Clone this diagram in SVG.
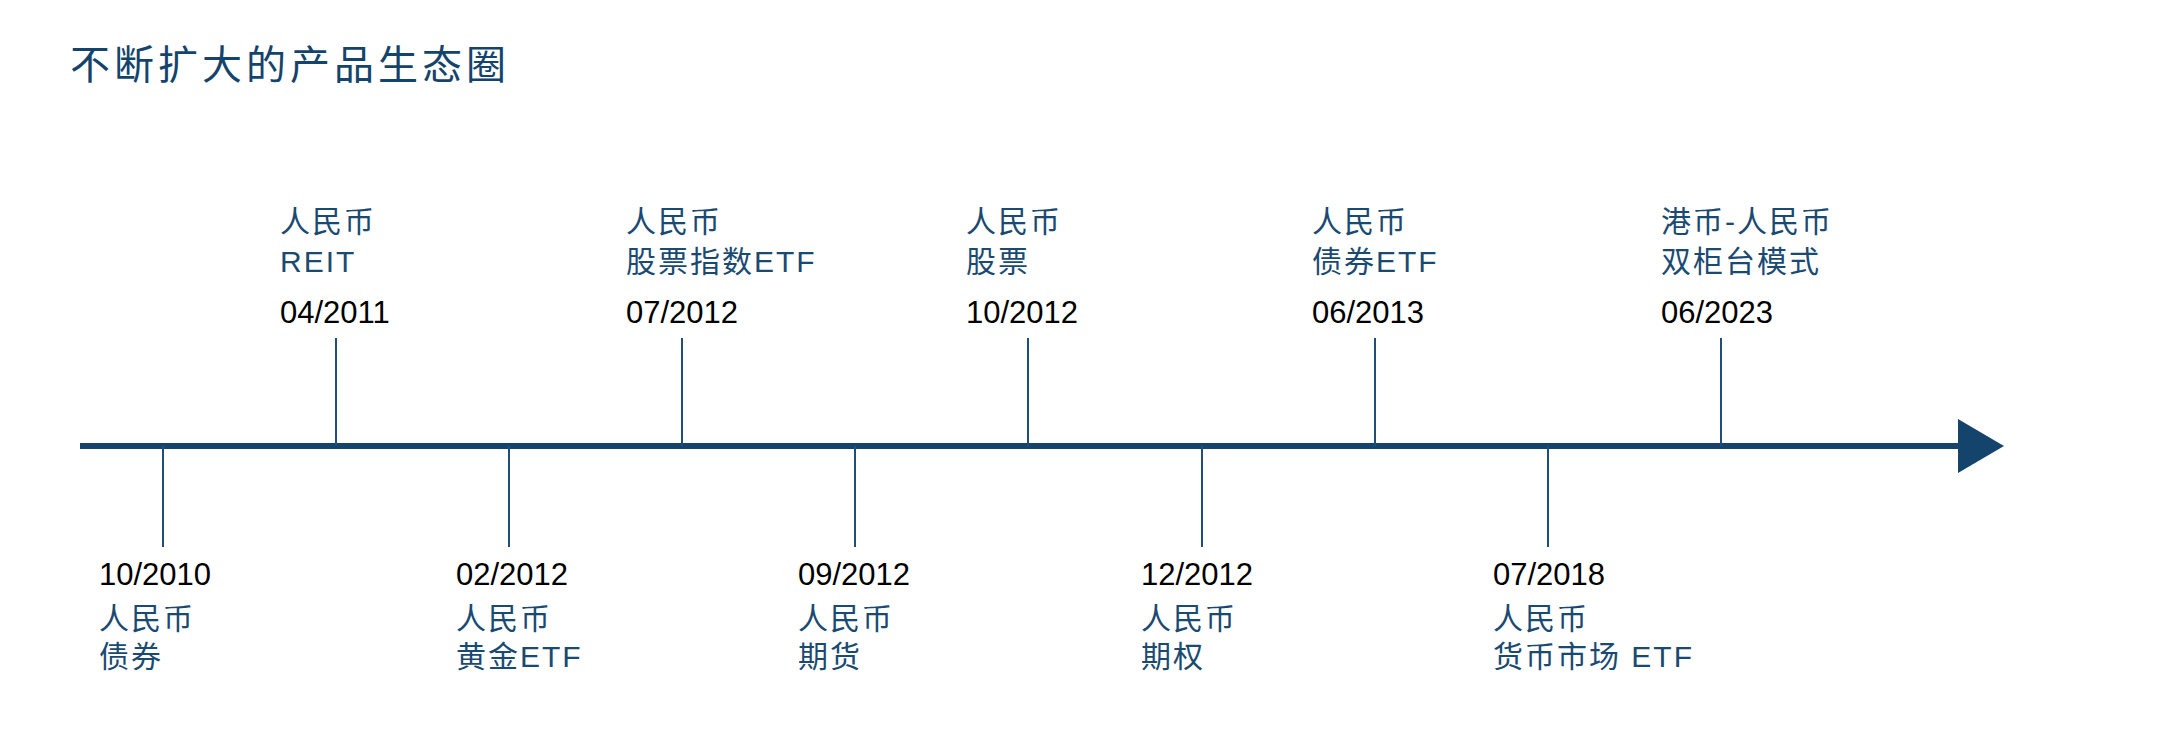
<svg xmlns="http://www.w3.org/2000/svg" width="2167" height="750" viewBox="0 0 2167 750">
<style>
.title{font-family:"Liberation Sans","Noto Sans CJK SC",sans-serif;font-size:40px;fill:#14446c;letter-spacing:4px}
.date{font-family:"Liberation Sans","Noto Sans CJK SC",sans-serif;font-size:31px;fill:#000}
.lbl{font-family:"Liberation Sans","Noto Sans CJK SC",sans-serif;font-size:30px;fill:#1a4a72;letter-spacing:2px}
.tick{stroke:#1f4e79;stroke-width:2}
.axis{stroke:#14446c;stroke-width:6}
</style>
<rect width="2167" height="750" fill="#fff"/>
<text class="title" x="70" y="79">不断扩大的产品生态圈</text>
<g id="connectors">
<line class="axis" x1="80" y1="446" x2="1960" y2="446"/>
<polygon points="1958,419 2004,446 1958,473" fill="#14446c"/>
<line class="tick" x1="163" y1="446" x2="163" y2="547"/>
<line class="tick" x1="336" y1="338" x2="336" y2="446"/>
<line class="tick" x1="509" y1="446" x2="509" y2="547"/>
<line class="tick" x1="682" y1="338" x2="682" y2="446"/>
<line class="tick" x1="855" y1="446" x2="855" y2="547"/>
<line class="tick" x1="1028" y1="338" x2="1028" y2="446"/>
<line class="tick" x1="1202" y1="446" x2="1202" y2="547"/>
<line class="tick" x1="1375" y1="338" x2="1375" y2="446"/>
<line class="tick" x1="1548" y1="446" x2="1548" y2="547"/>
<line class="tick" x1="1721" y1="338" x2="1721" y2="446"/>
</g>
<g id="n2010-10">
<text class="date" x="99" y="585">10/2010</text>
<text class="lbl" x="99" y="629">人民币</text>
<text class="lbl" x="99" y="667">债券</text>
</g>
<g id="n2011-04">
<text class="lbl" x="280" y="232">人民币</text>
<text class="lbl" x="280" y="272">REIT</text>
<text class="date" x="280" y="323">04/2011</text>
</g>
<g id="n2012-02">
<text class="date" x="456" y="585">02/2012</text>
<text class="lbl" x="456" y="629">人民币</text>
<text class="lbl" x="456" y="667">黄金ETF</text>
</g>
<g id="n2012-07">
<text class="lbl" x="626" y="232">人民币</text>
<text class="lbl" x="626" y="272">股票指数ETF</text>
<text class="date" x="626" y="323">07/2012</text>
</g>
<g id="n2012-09">
<text class="date" x="798" y="585">09/2012</text>
<text class="lbl" x="798" y="629">人民币</text>
<text class="lbl" x="798" y="667">期货</text>
</g>
<g id="n2012-10">
<text class="lbl" x="966" y="232">人民币</text>
<text class="lbl" x="966" y="272">股票</text>
<text class="date" x="966" y="323">10/2012</text>
</g>
<g id="n2012-12">
<text class="date" x="1141" y="585">12/2012</text>
<text class="lbl" x="1141" y="629">人民币</text>
<text class="lbl" x="1141" y="667">期权</text>
</g>
<g id="n2013-06">
<text class="lbl" x="1312" y="232">人民币</text>
<text class="lbl" x="1312" y="272">债券ETF</text>
<text class="date" x="1312" y="323">06/2013</text>
</g>
<g id="n2018-07">
<text class="date" x="1493" y="585">07/2018</text>
<text class="lbl" x="1493" y="629">人民币</text>
<text class="lbl" x="1493" y="667" xml:space="preserve">货币市场 ETF</text>
</g>
<g id="n2023-06">
<text class="lbl" x="1661" y="232">港币-人民币</text>
<text class="lbl" x="1661" y="272">双柜台模式</text>
<text class="date" x="1661" y="323">06/2023</text>
</g>
</svg>
